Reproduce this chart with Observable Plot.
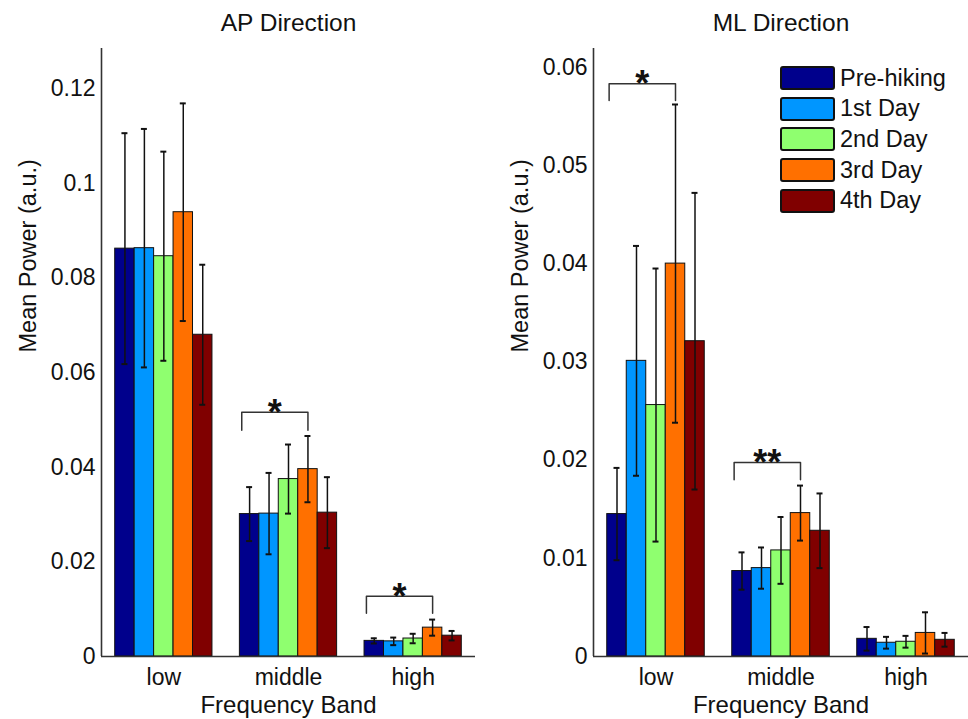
<!DOCTYPE html>
<html>
<head>
<meta charset="utf-8">
<script src="https://cdn.jsdelivr.net/npm/d3@7"></script>
<script src="https://cdn.jsdelivr.net/npm/@observablehq/plot@0.6"></script>
<style>
  html, body { margin: 0; padding: 0; background: white; }
  #wrap { position: relative; width: 968px; height: 719px; display: flex; overflow: hidden; }
  #legend { position: absolute; left: 780px; top: 63px; font-family: "Liberation Sans", Arial, sans-serif; font-size: 23.5px; color: #111; }
  .item { display: flex; align-items: center; height: 30.6px; }
  .sw { width: 51px; height: 20px; border: 2px solid #111; border-radius: 3px; margin-right: 5px; box-sizing: content-box; }
</style>
</head>
<body>
<div id="wrap"><div id="legend"></div></div>
<script>
// ---- data ----
const bands = ["low", "middle", "high"];
const series = ["Pre-hiking", "1st Day", "2nd Day", "3rd Day", "4th Day"];
const colors = ["#00008c", "#0096ff", "#8fff6f", "#ff7000", "#800000"];

// AP direction: rows = series, columns = bands (low, middle, high)
const apMean = [
  [0.0862, 0.0301, 0.0033],
  [0.0863, 0.0302, 0.0032],
  [0.0846, 0.0375, 0.0038],
  [0.0939, 0.0396, 0.0061],
  [0.0680, 0.0304, 0.0044]
];
const apErr = [
  [0.0244, 0.0057, 0.00055],
  [0.0252, 0.0086, 0.0008],
  [0.0221, 0.0073, 0.0010],
  [0.0230, 0.0070, 0.0017],
  [0.0148, 0.0075, 0.0010]
];
// ML direction
const mlMean = [
  [0.0145, 0.0087, 0.0018],
  [0.0301, 0.0090, 0.0014],
  [0.0256, 0.0108, 0.0015],
  [0.0400, 0.0146, 0.0024],
  [0.0321, 0.0128, 0.0017]
];
const mlErr = [
  [0.0047, 0.0019, 0.0012],
  [0.0117, 0.0021, 0.0006],
  [0.0139, 0.0034, 0.0006],
  [0.0162, 0.0028, 0.0021],
  [0.0151, 0.0038, 0.0007]
];
const apTicks = [0, 0.02, 0.04, 0.06, 0.08, 0.1, 0.12];
const mlTicks = [0, 0.01, 0.02, 0.03, 0.04, 0.05, 0.06];

// significance brackets: from Pre-hiking to 3rd Day
const apBrackets = [
  {band: "middle", from: "Pre-hiking", to: "3rd Day", top: 0.0516, leg: 0.0478, label: "*"},
  {band: "high", from: "Pre-hiking", to: "3rd Day", top: 0.01275, leg: 0.00915, label: "*"}
];
const mlBrackets = [
  {band: "low", from: "Pre-hiking", to: "3rd Day", top: 0.0583, leg: 0.0566, label: "*"},
  {band: "middle", from: "Pre-hiking", to: "3rd Day", top: 0.01976, leg: 0.0180, label: "**"}
];

// ---- chart ----
const FONT = "'Liberation Sans', Arial, sans-serif";
const groupWidth = 0.78;
const barW = groupWidth / series.length;
const barLeft = (bi, si) => (bi + 1) - groupWidth / 2 + si * barW;

function panel({title, means, errs, ticks, ymax, brackets, marginLeft, marginRight}) {
  const rows = [];
  bands.forEach((b, bi) => series.forEach((s, si) => {
    const x1 = barLeft(bi, si);
    rows.push({band: b, series: s, x1, x2: x1 + barW, xc: x1 + barW / 2,
      value: means[si][bi], err: errs[si][bi], color: colors[si]});
  }));
  const capHalf = 0.024;
  const bpts = [];
  const blabels = [];
  brackets.forEach((br, k) => {
    const bi = bands.indexOf(br.band);
    const xl = barLeft(bi, series.indexOf(br.from)) + 0.015;
    const xr = barLeft(bi, series.indexOf(br.to)) + barW / 2;
    bpts.push({id: k, x: xl, y: br.leg}, {id: k, x: xl, y: br.top}, {id: k, x: xr, y: br.top}, {id: k, x: xr, y: br.leg});
    blabels.push({x: (xl + xr) / 2, y: br.top, label: br.label});
  });
  return Plot.plot({
    width: 484, height: 719,
    marginTop: 48, marginBottom: 63, marginLeft, marginRight,
    style: {fontFamily: FONT, fontSize: "23px", color: "#111", background: "white", overflow: "visible"},
    color: {type: "identity"},
    x: {domain: [0.5, 3.5], ticks: [1, 2, 3], tickFormat: d => bands[d - 1], tickSize: 0, tickPadding: 12, label: null},
    y: {domain: [0, ymax], ticks, tickFormat: d3.format("~g"), tickSize: 0, tickPadding: 6, label: null},
    marks: [
      Plot.rectY(rows, {x1: "x1", x2: "x2", y1: 0, y2: "value", fill: "color", stroke: "#111", strokeWidth: 1}),
      Plot.ruleX(rows, {x: "xc", y1: d => d.value - d.err, y2: d => d.value + d.err, stroke: "#111", strokeWidth: 1.5}),
      Plot.ruleY(rows, {y: d => d.value + d.err, x1: d => d.xc - capHalf, x2: d => d.xc + capHalf, stroke: "#111", strokeWidth: 2}),
      Plot.ruleY(rows, {y: d => d.value - d.err, x1: d => d.xc - capHalf, x2: d => d.xc + capHalf, stroke: "#111", strokeWidth: 2}),
      Plot.ruleX([0.5], {stroke: "#333", strokeWidth: 1.6}),
      Plot.ruleY([0], {stroke: "#333", strokeWidth: 1.6}),
      Plot.line(bpts, {x: "x", y: "y", z: "id", stroke: "#333", strokeWidth: 1.5}),
      Plot.text(blabels, {x: "x", y: "y", text: "label", fontSize: 36, fontWeight: "bold", lineAnchor: "middle", dy: 1, fill: "#111"}),
      Plot.text([title], {frameAnchor: "top", lineAnchor: "top", dy: -35, fontSize: 24.5, fill: "#111"}),
      Plot.text(["Mean Power (a.u.)"], {frameAnchor: "left", dx: -73, rotate: -90, lineAnchor: "middle", fontSize: 23.5, fill: "#111"}),
      Plot.text(["Frequency Band"], {frameAnchor: "bottom", lineAnchor: "top", dy: 39, fontSize: 24, fill: "#111"})
    ]
  });
}

const wrap = document.getElementById("wrap");
wrap.insertBefore(panel({title: "AP Direction", means: apMean, errs: apErr, ticks: apTicks, ymax: 0.1285,
  brackets: apBrackets, marginLeft: 101, marginRight: 9}), document.getElementById("legend"));
wrap.insertBefore(panel({title: "ML Direction", means: mlMean, errs: mlErr, ticks: mlTicks, ymax: 0.0619,
  brackets: mlBrackets, marginLeft: 109, marginRight: 0}), document.getElementById("legend"));

const legend = document.getElementById("legend");
series.forEach((s, i) => {
  const item = document.createElement("div");
  item.className = "item";
  const sw = document.createElement("div");
  sw.className = "sw";
  sw.style.background = colors[i];
  const lab = document.createElement("span");
  lab.textContent = s;
  item.appendChild(sw);
  item.appendChild(lab);
  legend.appendChild(item);
});
</script>
</body>
</html>
